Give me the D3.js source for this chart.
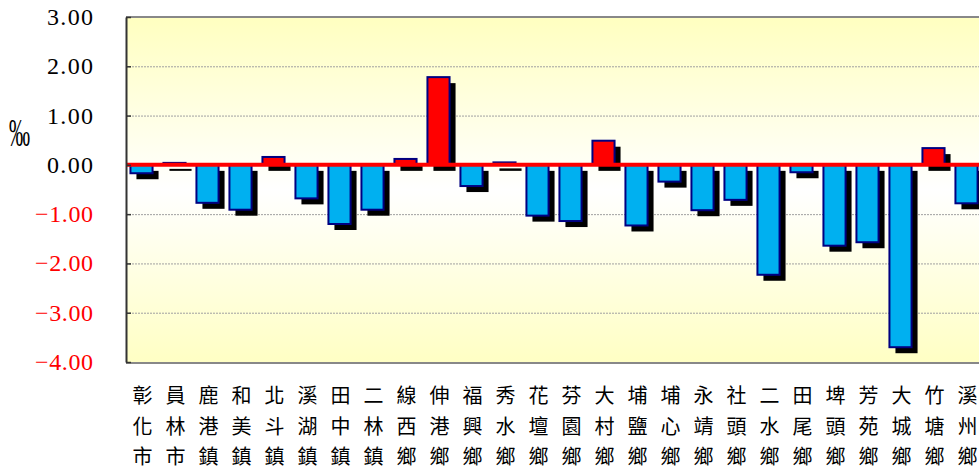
<!DOCTYPE html>
<html>
<head>
<meta charset="utf-8">
<script src="https://cdn.jsdelivr.net/npm/d3@7"></script>
<style>
  body { margin: 0; background: #fff; }
  svg { display: block; }
</style>
</head>
<body>
<div id="chart"></div>
<script>
// 鄉鎮名稱（直排三字）
const towns = ['彰化市', '員林市', '鹿港鎮', '和美鎮', '北斗鎮', '溪湖鎮', '田中鎮', '二林鎮', '線西鄉',
  '伸港鄉', '福興鄉', '秀水鄉', '花壇鄉', '芬園鄉', '大村鄉', '埔鹽鄉', '埔心鄉', '永靖鄉', '社頭鄉',
  '二水鄉', '田尾鄉', '埤頭鄉', '芳苑鄉', '大城鄉', '竹塘鄉', '溪州鄉'];
const rates = [-0.17, 0.04, -0.77, -0.91, 0.16, -0.68, -1.2, -0.91, 0.12,
  1.78, -0.43, 0.05, -1.03, -1.14, 0.49, -1.23, -0.34, -0.92, -0.71,
  -2.23, -0.15, -1.64, -1.57, -3.7, 0.34, -0.78];
const yTicks = [3, 2, 1, 0, -1, -2, -3, -4];

const WIDTH = 979;
const HEIGHT = 473;
const MARGIN = { TOP: 17, RIGHT: -5, BOTTOM: 111, LEFT: 126 };
const plotBottom = HEIGHT - MARGIN.BOTTOM;

const svg = d3.select('#chart').append('svg').attr('width', WIDTH).attr('height', HEIGHT);

const xScale = d3.scaleBand()
  .domain(towns)
  .range([MARGIN.LEFT, MARGIN.LEFT + 33 * towns.length])
  .paddingInner(0.33)
  .paddingOuter(0.165);

const yScale = d3.scaleLinear()
  .domain([-4, 3])
  .range([plotBottom, MARGIN.TOP]);

// 背景漸層
const grad = svg.append('defs').append('linearGradient')
  .attr('id', 'bg').attr('x1', 0).attr('y1', 0).attr('x2', 0).attr('y2', 1);
grad.append('stop').attr('offset', '0%').attr('stop-color', '#ffffc0');
grad.append('stop').attr('offset', '50%').attr('stop-color', '#ffffff');
grad.append('stop').attr('offset', '100%').attr('stop-color', '#ffffc4');

svg.append('rect')
  .attr('x', MARGIN.LEFT).attr('y', MARGIN.TOP)
  .attr('width', WIDTH - MARGIN.LEFT).attr('height', plotBottom - MARGIN.TOP)
  .attr('fill', 'url(#bg)');

// 格線
svg.append('g')
  .attr('transform', 'translate(' + MARGIN.LEFT + ',0)')
  .call(d3.axisLeft(yScale).tickValues(yTicks).tickSizeInner(-(WIDTH - MARGIN.LEFT)).tickSizeOuter(0).tickFormat(() => ''))
  .call((g) => g.select('.domain').remove())
  .selectAll('.tick line')
  .attr('stroke', '#a0a0a0')
  .attr('stroke-width', 1)
  .attr('stroke-dasharray', '2,1');

// 陰影
svg.append('g')
  .selectAll('rect')
  .data(rates)
  .join('rect')
  .attr('x', (d, i) => xScale(towns[i]) + 5)
  .attr('y', (d) => Math.min(yScale(d), yScale(0)) + 6)
  .attr('width', xScale.bandwidth())
  .attr('height', (d) => Math.abs(yScale(d) - yScale(0)))
  .attr('fill', '#000');

// 長條
svg.append('g')
  .selectAll('rect')
  .data(rates)
  .join('rect')
  .attr('x', (d, i) => xScale(towns[i]) - 1)
  .attr('y', (d) => Math.min(yScale(d), yScale(0)))
  .attr('width', xScale.bandwidth())
  .attr('height', (d) => Math.abs(yScale(d) - yScale(0)))
  .attr('fill', (d) => (d > 0 ? '#ff0000' : '#00b0f0'))
  .attr('stroke', '#000080')
  .attr('stroke-width', 2);

// 零線
svg.append('line')
  .attr('x1', MARGIN.LEFT).attr('x2', WIDTH)
  .attr('y1', yScale(0)).attr('y2', yScale(0))
  .attr('stroke', '#ff0000')
  .attr('stroke-width', 4);

// 外框
svg.append('line')
  .attr('x1', MARGIN.LEFT).attr('x2', WIDTH)
  .attr('y1', MARGIN.TOP).attr('y2', MARGIN.TOP)
  .attr('stroke', '#888').attr('stroke-width', 2);
svg.append('line')
  .attr('x1', MARGIN.LEFT).attr('x2', WIDTH)
  .attr('y1', plotBottom + 1).attr('y2', plotBottom + 1)
  .attr('stroke', '#888').attr('stroke-width', 2);

// Y 軸
const yAxis = svg.append('g')
  .attr('transform', 'translate(' + MARGIN.LEFT + ',0)')
  .call(d3.axisRight(yScale).tickValues(yTicks).tickSizeInner(5).tickSizeOuter(0).tickFormat(() => ''));
yAxis.select('.domain').attr('stroke', '#333').attr('stroke-width', 2);
yAxis.selectAll('.tick line').attr('stroke', '#333').attr('stroke-width', 1.5);

svg.append('g')
  .selectAll('text')
  .data(yTicks)
  .join('text')
  .attr('x', 93)
  .attr('y', (d) => yScale(d) + 8)
  .attr('text-anchor', 'end')
  .attr('font-family', '"Liberation Serif", serif')
  .attr('font-size', 24)
  .attr('textLength', (d) => (d < 0 ? 58 : 46))
  .attr('lengthAdjust', 'spacing')
  .attr('fill', (d) => (d < 0 ? '#ff0000' : '#000'))
  .text((d) => (d < 0 ? '\u2212' : '') + Math.abs(d).toFixed(2));

// 單位
svg.append('text')
  .attr('x', 9)
  .attr('y', 146)
  .attr('font-family', '"Liberation Serif", serif')
  .attr('font-size', 40)
  .attr('textLength', 21)
  .attr('lengthAdjust', 'spacingAndGlyphs')
  .attr('fill', '#000')
  .text('‰');

// X 軸標籤（直排）
const rowY = [396, 427, 457];
const labels = svg.append('g')
  .selectAll('g')
  .data(towns)
  .join('g')
  .attr('transform', (d) => 'translate(' + (xScale(d) + xScale.bandwidth() / 2) + ',0)');
labels.selectAll('text')
  .data((d) => d.split(''))
  .join('text')
  .attr('x', 0)
  .attr('y', (c, j) => rowY[j])
  .attr('dy', '0.36em')
  .attr('text-anchor', 'middle')
  .attr('font-family', '"Noto Sans CJK TC", sans-serif')
  .attr('font-size', 20)
  .attr('fill', '#000')
  .text((c) => c);
</script>
</body>
</html>
